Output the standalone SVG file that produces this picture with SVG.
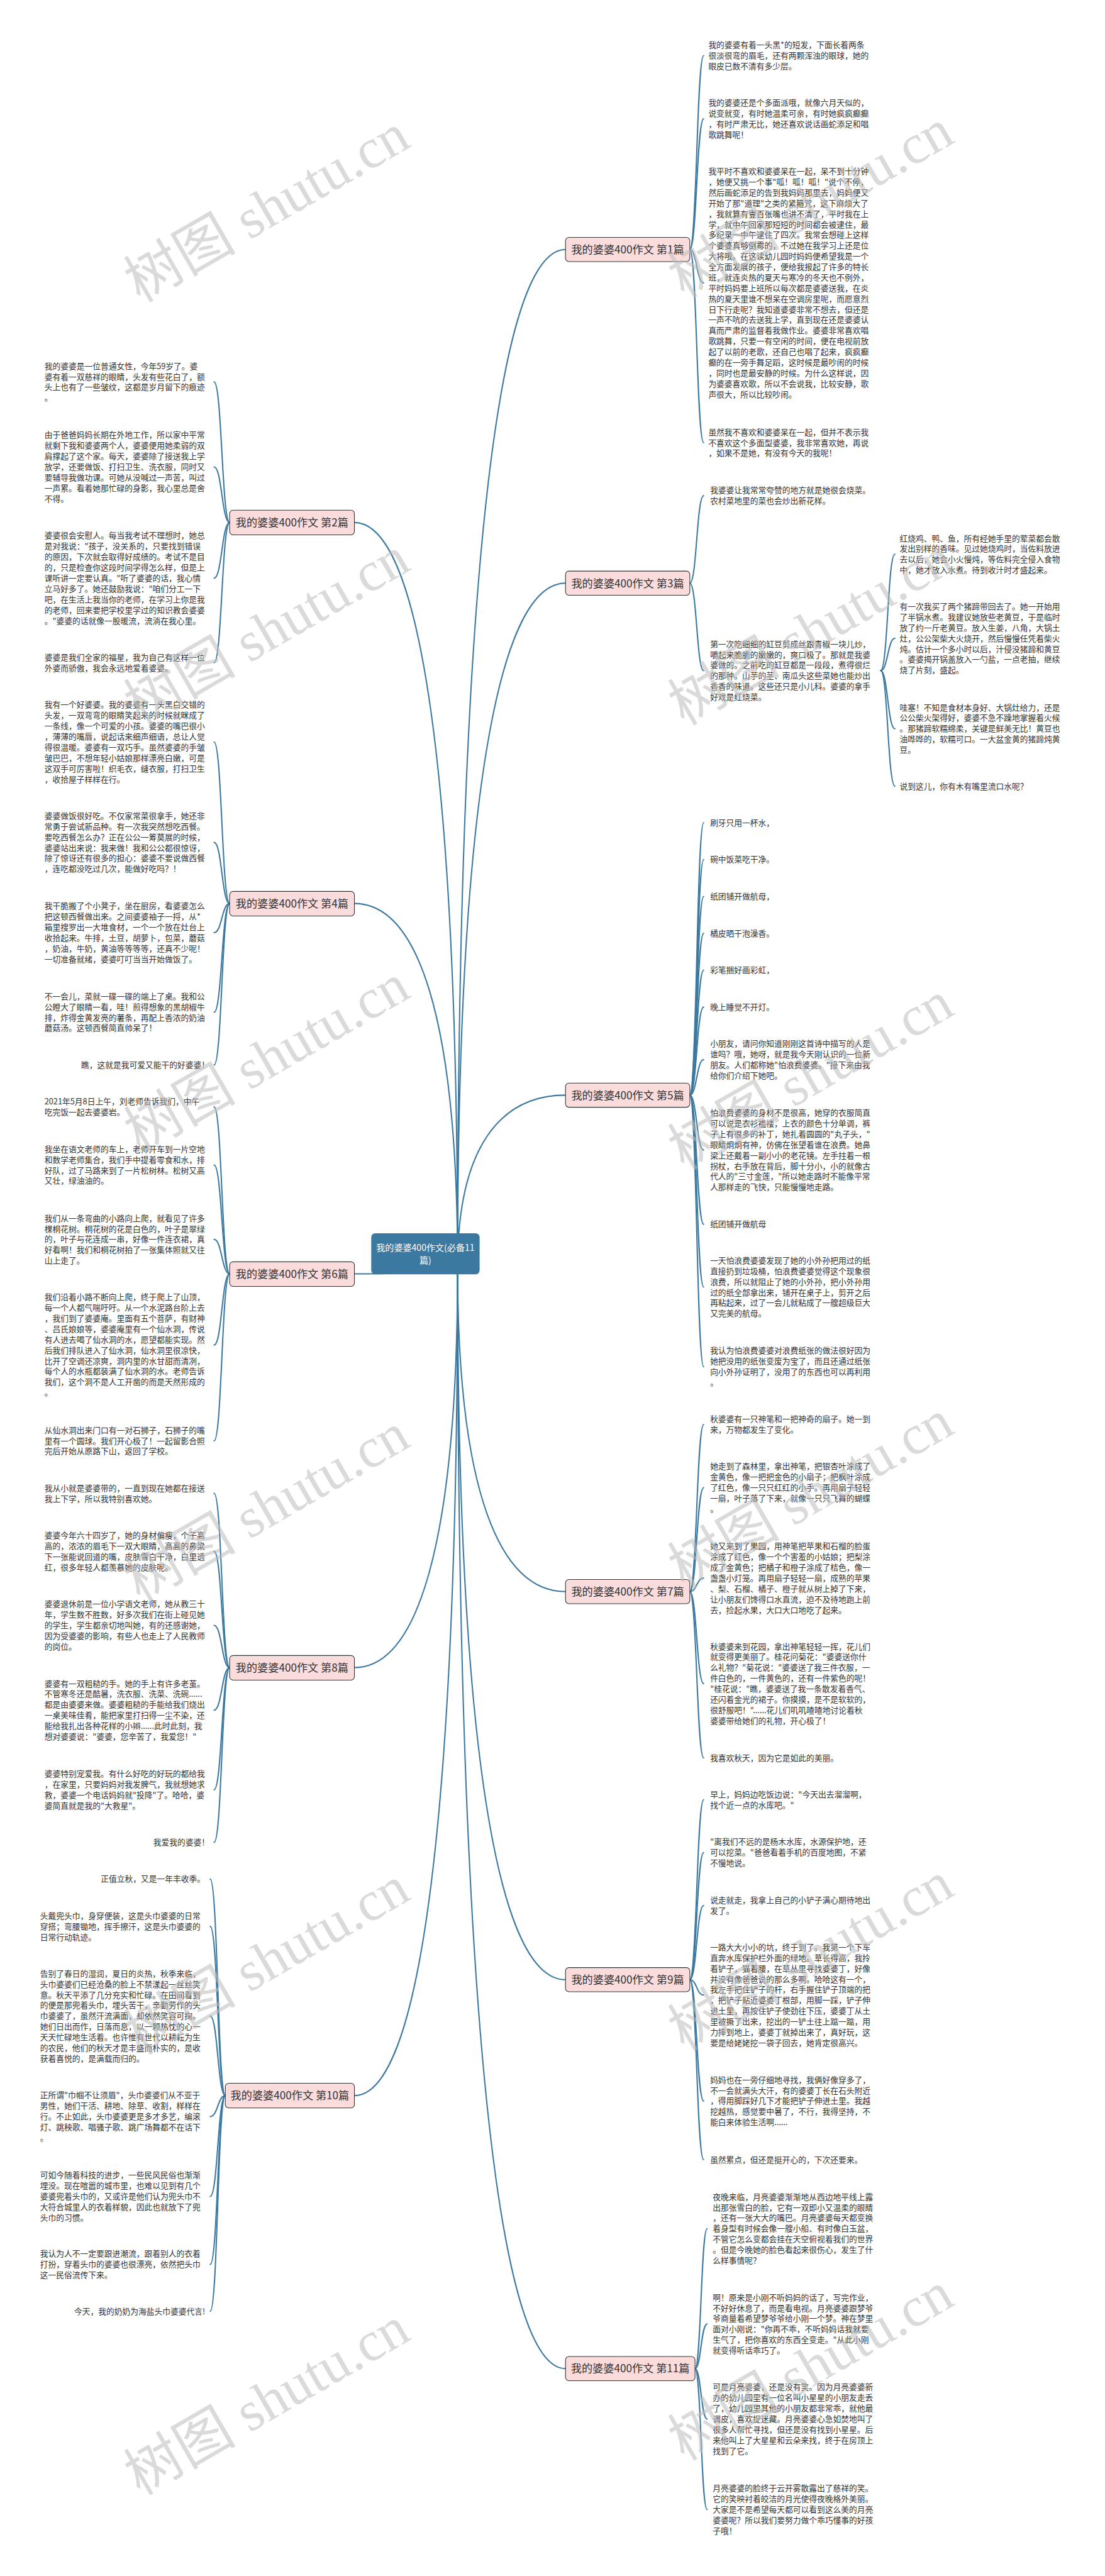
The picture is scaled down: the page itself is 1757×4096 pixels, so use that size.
<svg xmlns="http://www.w3.org/2000/svg" width="1757" height="4096" viewBox="0 0 1757 4096">
<style>
.t{font-family:"Noto Sans CJK SC","Noto Sans",sans-serif;font-size:18.6px;fill:#333}
.e{text-anchor:end}
.n rect{fill:#fbdcdc;stroke:#333;stroke-width:1.6}
.n text{font-family:"Noto Sans CJK SC","Noto Sans",sans-serif;font-size:25px;fill:#333;text-anchor:middle}
#connectors path{fill:none;stroke:#3c79a0;stroke-width:3;stroke-linecap:round}
.wm{font-family:"Liberation Serif","Noto Sans CJK SC",serif;font-size:130px;fill:#bdbdbd;opacity:0.55;text-anchor:middle}
</style>
<rect width="1757" height="4096" fill="#fff"/>
<g transform="scale(0.6864)">
<g id="connectors">
<path d="M1310 578C1160 578 1060 1285.1 1060 2935"/>
<path d="M1310 1351C1160 1351 1060 1826.2 1060 2935"/>
<path d="M1310 2537C1160 2537 1060 2656.4 1060 2935"/>
<path d="M1310 3687C1160 3687 1060 3461.4 1060 2935"/>
<path d="M1310 4586C1160 4586 1060 4090.7 1060 2935"/>
<path d="M1310 5487C1160 5487 1060 4721.4 1060 2935"/>
<path d="M821 1210.5C964.4 1210.5 1060 1727.9 1060 2935"/>
<path d="M821 2093C964.4 2093 1060 2345.6 1060 2935"/>
<path d="M821 2951C964.4 2951 1060 2946.2 1060 2935"/>
<path d="M821 3863C964.4 3863 1060 3584.6 1060 2935"/>
<path d="M821 4854.5C964.4 4854.5 1060 4278.7 1060 2935"/>
<path d="M1598 578C1614 578 1614 129 1630 129"/>
<path d="M1598 578C1614 578 1614 274.9 1630 274.9"/>
<path d="M1598 578C1614 578 1614 655.3 1630 655.3"/>
<path d="M1598 578C1614 578 1614 1025.6 1630 1025.6"/>
<path d="M1598 1351C1614 1351 1614 1148.3 1630 1148.3"/>
<path d="M1598 1351C1614 1351 1614 1553.5 1630 1553.5"/>
<path d="M2040 1553.5C2056.5 1553.5 2056.5 1283.9 2073 1283.9"/>
<path d="M2040 1553.5C2056.5 1553.5 2056.5 1478.8 2073 1478.8"/>
<path d="M2040 1553.5C2056.5 1553.5 2056.5 1688.2 2073 1688.2"/>
<path d="M2040 1553.5C2056.5 1553.5 2056.5 1821 2073 1821"/>
<path d="M1598 2537C1614 2537 1614 1906 1630 1906"/>
<path d="M1598 2537C1614 2537 1614 1991.4 1630 1991.4"/>
<path d="M1598 2537C1614 2537 1614 2076.8 1630 2076.8"/>
<path d="M1598 2537C1614 2537 1614 2162.2 1630 2162.2"/>
<path d="M1598 2537C1614 2537 1614 2247.6 1630 2247.6"/>
<path d="M1598 2537C1614 2537 1614 2333 1630 2333"/>
<path d="M1598 2537C1614 2537 1614 2454.9 1630 2454.9"/>
<path d="M1598 2537C1614 2537 1614 2664.1 1630 2664.1"/>
<path d="M1598 2537C1614 2537 1614 2836 1630 2836"/>
<path d="M1598 2537C1614 2537 1614 2981.5 1630 2981.5"/>
<path d="M1598 2537C1614 2537 1614 3165.9 1630 3165.9"/>
<path d="M1598 3687C1614 3687 1614 3300.3 1630 3300.3"/>
<path d="M1598 3687C1614 3687 1614 3446.2 1630 3446.2"/>
<path d="M1598 3687C1614 3687 1614 3655.8 1630 3655.8"/>
<path d="M1598 3687C1614 3687 1614 3900.1 1630 3900.1"/>
<path d="M1598 3687C1614 3687 1614 4072 1630 4072"/>
<path d="M1598 4586C1614 4586 1614 4169.3 1630 4169.3"/>
<path d="M1598 4586C1614 4586 1614 4291.6 1630 4291.6"/>
<path d="M1598 4586C1614 4586 1614 4414.3 1630 4414.3"/>
<path d="M1598 4586C1614 4586 1614 4621.7 1630 4621.7"/>
<path d="M1598 4586C1614 4586 1614 4867.2 1630 4867.2"/>
<path d="M1598 4586C1614 4586 1614 5003 1630 5003"/>
<path d="M1610 5487C1624 5487 1624 5162.8 1638 5162.8"/>
<path d="M1610 5487C1624 5487 1624 5383.5 1638 5383.5"/>
<path d="M1610 5487C1624 5487 1624 5603.8 1638 5603.8"/>
<path d="M1610 5487C1624 5487 1624 5813.2 1638 5813.2"/>
<path d="M532 1210.5C514 1210.5 514 884.9 496 884.9"/>
<path d="M532 1210.5C514 1210.5 514 1081.8 496 1081.8"/>
<path d="M532 1210.5C514 1210.5 514 1339.4 496 1339.4"/>
<path d="M532 1210.5C514 1210.5 514 1535.3 496 1535.3"/>
<path d="M532 2093C514 2093 514 1719.1 496 1719.1"/>
<path d="M532 2093C514 2093 514 1951.5 496 1951.5"/>
<path d="M532 2093C514 2093 514 2160.5 496 2160.5"/>
<path d="M532 2093C514 2093 514 2344.9 496 2344.9"/>
<path d="M532 2093C514 2093 514 2467 496 2467"/>
<path d="M532 2951C514 2951 514 2564.3 496 2564.3"/>
<path d="M532 2951C514 2951 514 2698.9 496 2698.9"/>
<path d="M532 2951C514 2951 514 2871.2 496 2871.2"/>
<path d="M532 2951C514 2951 514 3115.7 496 3115.7"/>
<path d="M532 2951C514 2951 514 3337.6 496 3337.6"/>
<path d="M532 3863C514 3863 514 3459.3 496 3459.3"/>
<path d="M532 3863C514 3863 514 3593.9 496 3593.9"/>
<path d="M532 3863C514 3863 514 3765.2 496 3765.2"/>
<path d="M532 3863C514 3863 514 3961.5 496 3961.5"/>
<path d="M532 3863C514 3863 514 4145.9 496 4145.9"/>
<path d="M532 3863C514 3863 514 4268 496 4268"/>
<path d="M522 4854.5C504.5 4854.5 504.5 4353 487 4353"/>
<path d="M522 4854.5C504.5 4854.5 504.5 4462.6 487 4462.6"/>
<path d="M522 4854.5C504.5 4854.5 504.5 4670.4 487 4670.4"/>
<path d="M522 4854.5C504.5 4854.5 504.5 4903.2 487 4903.2"/>
<path d="M522 4854.5C504.5 4854.5 504.5 5088.2 487 5088.2"/>
<path d="M522 4854.5C504.5 4854.5 504.5 5245.6 487 5245.6"/>
<path d="M522 4854.5C504.5 4854.5 504.5 5354 487 5354"/>
</g>

<g id="root"><rect x="860" y="2857" width="251" height="95" rx="9" fill="#3c79a0"/>
<text font-family="Noto Sans CJK SC,Noto Sans,sans-serif" font-size="20.5" fill="#fff" text-anchor="middle"><tspan x="985.5" y="2897.5">我的婆婆400作文(必备11</tspan><tspan x="985.5" y="2927.5">篇)</tspan></text></g>

<g id="n1" class="n"><rect x="1310" y="550" width="288" height="56" rx="8"/><text x="1454" y="587">我的婆婆400作文 第1篇</text></g>
<g id="n3" class="n"><rect x="1310" y="1323" width="288" height="56" rx="8"/><text x="1454" y="1360">我的婆婆400作文 第3篇</text></g>
<g id="n5" class="n"><rect x="1310" y="2509" width="288" height="56" rx="8"/><text x="1454" y="2546">我的婆婆400作文 第5篇</text></g>
<g id="n7" class="n"><rect x="1310" y="3659" width="288" height="56" rx="8"/><text x="1454" y="3696">我的婆婆400作文 第7篇</text></g>
<g id="n9" class="n"><rect x="1310" y="4558" width="288" height="56" rx="8"/><text x="1454" y="4595">我的婆婆400作文 第9篇</text></g>
<g id="n11" class="n"><rect x="1310" y="5459" width="300" height="56" rx="8"/><text x="1460" y="5496">我的婆婆400作文 第11篇</text></g>
<g id="n2" class="n"><rect x="532" y="1182" width="289" height="57" rx="8"/><text x="676.5" y="1219.5">我的婆婆400作文 第2篇</text></g>
<g id="n4" class="n"><rect x="532" y="2065" width="289" height="57" rx="8"/><text x="676.5" y="2102.5">我的婆婆400作文 第4篇</text></g>
<g id="n6" class="n"><rect x="532" y="2923" width="289" height="57" rx="8"/><text x="676.5" y="2960.5">我的婆婆400作文 第6篇</text></g>
<g id="n8" class="n"><rect x="532" y="3835" width="289" height="57" rx="8"/><text x="676.5" y="3872.5">我的婆婆400作文 第8篇</text></g>
<g id="n10" class="n"><rect x="522" y="4826" width="299" height="57" rx="8"/><text x="671.5" y="4863.5">我的婆婆400作文 第10篇</text></g>

<g id="r1a"><text class="t"><tspan x="1641" y="111.1">我的婆婆有着一头黑*的短发，下面长着两条</tspan><tspan x="1641" dy="24.6">很淡很弯的眉毛，还有两颗浑浊的眼球，她的</tspan><tspan x="1641" dy="24.6">眼皮已数不清有多少层。</tspan></text></g>
<g id="r1b"><text class="t"><tspan x="1641" y="244.7">我的婆婆还是个多面派哦，就像六月天似的，</tspan><tspan x="1641" dy="24.6">说变就变，有时她温柔可亲，有时她疯疯癫癫</tspan><tspan x="1641" dy="24.6">，有时严肃无比，她还喜欢说话画蛇添足和唱</tspan><tspan x="1641" dy="24.6">歌跳舞呢！</tspan></text></g>
<g id="r1c"><text class="t"><tspan x="1641" y="403.7">我平时不喜欢和婆婆呆在一起，呆不到十分钟</tspan><tspan x="1641" dy="24.6">，她便又挑一个事"呱！呱！呱！"说个不停，</tspan><tspan x="1641" dy="24.6">然后画蛇添足的告到我妈妈那里去，妈妈便又</tspan><tspan x="1641" dy="24.6">开始了那"道理"之类的紧箍咒，这下麻烦大了</tspan><tspan x="1641" dy="24.6">，我就算有壹百张嘴也讲不清了，平时我在上</tspan><tspan x="1641" dy="24.6">学，就中午回家那短短的时间都会被逮住，最</tspan><tspan x="1641" dy="24.6">多纪录一中午逮住了四次。我常会想碰上这样</tspan><tspan x="1641" dy="24.6">个婆婆真够倒霉的，不过她在我学习上还是位</tspan><tspan x="1641" dy="24.6">大将哦。在这读幼儿园时妈妈便希望我是一个</tspan><tspan x="1641" dy="24.6">全方面发展的孩子，便给我报起了许多的特长</tspan><tspan x="1641" dy="24.6">班，就连炎热的夏天与寒冷的冬天也不例外，</tspan><tspan x="1641" dy="24.6">平时妈妈要上班所以每次都是婆婆送我，在炎</tspan><tspan x="1641" dy="24.6">热的夏天里谁不想呆在空调房里呢，而愿意烈</tspan><tspan x="1641" dy="24.6">日下行走呢？我知道婆婆非常不想去，但还是</tspan><tspan x="1641" dy="24.6">一声不吭的去送我上学，直到现在还是婆婆认</tspan><tspan x="1641" dy="24.6">真而严肃的监督着我做作业。婆婆非常喜欢唱</tspan><tspan x="1641" dy="24.6">歌跳舞，只要一有空闲的时间，便在电视前放</tspan><tspan x="1641" dy="24.6">起了以前的老歌，还自己也唱了起来，疯疯癫</tspan><tspan x="1641" dy="24.6">癫的在一旁手舞足蹈，这时候是最吵闹的时候</tspan><tspan x="1641" dy="24.6">，同时也是最安静的时候。为什么这样说，因</tspan><tspan x="1641" dy="24.6">为婆婆喜欢歌，所以不会说我，比较安静，歌</tspan><tspan x="1641" dy="24.6">声很大，所以比较吵闹。</tspan></text></g>
<g id="r1d"><text class="t"><tspan x="1641" y="1007.7">虽然我不喜欢和婆婆呆在一起，但并不表示我</tspan><tspan x="1641" dy="24.6">不喜欢这个多面型婆婆，我非常喜欢她，再说</tspan><tspan x="1641" dy="24.6">，如果不是她，有没有今天的我呢！</tspan></text></g>

<g id="r3a"><text class="t"><tspan x="1645" y="1142.7">我婆婆让我常常夸赞的地方就是她很会烧菜。</tspan><tspan x="1645" dy="24.6">农村菜地里的菜也会炒出新花样。</tspan></text></g>
<g id="r3b"><text class="t"><tspan x="1645" y="1498.7">第一次吃细细的缸豆剪成丝跟青椒一块儿炒，</tspan><tspan x="1645" dy="24.6">嚼起来脆脆的嫩嫩的，爽口极了。那就是我婆</tspan><tspan x="1645" dy="24.6">婆做的。之前吃的缸豆都是一段段，煮得很烂</tspan><tspan x="1645" dy="24.6">的那种。山芋的茎、南瓜头这些菜她也能炒出</tspan><tspan x="1645" dy="24.6">香香的味道。这些还只是小儿科。婆婆的拿手</tspan><tspan x="1645" dy="24.6">好戏是红烧菜。</tspan></text></g>
<g id="r3b1"><text class="t"><tspan x="2084" y="1253.7">红烧鸡、鸭、鱼，所有经她手里的荤菜都会散</tspan><tspan x="2084" dy="24.6">发出别样的香味。见过她烧鸡时，当佐料放进</tspan><tspan x="2084" dy="24.6">去以后，她会小火慢炖，等佐料完全侵入食物</tspan><tspan x="2084" dy="24.6">中，她才放入水煮。待到收汁时才盛起来。</tspan></text></g>
<g id="r3b2"><text class="t"><tspan x="2084" y="1411.7">有一次我买了两个猪蹄带回去了。她一开始用</tspan><tspan x="2084" dy="24.6">了半锅水煮。我建议她放些老黄豆，于是临时</tspan><tspan x="2084" dy="24.6">放了约一斤老黄豆。放入生姜，八角，大锅土</tspan><tspan x="2084" dy="24.6">灶，公公架柴大火烧开，然后慢慢任凭着柴火</tspan><tspan x="2084" dy="24.6">炖。估计一个多小时以后，汁侵没猪蹄和黄豆</tspan><tspan x="2084" dy="24.6">。婆婆揭开锅盖放入一勺盐，一点老抽，继续</tspan><tspan x="2084" dy="24.6">烧了片刻，盛起。</tspan></text></g>
<g id="r3b3"><text class="t"><tspan x="2084" y="1645.7">哇塞！不知是食材本身好、大锅灶给力，还是</tspan><tspan x="2084" dy="24.6">公公柴火架得好，婆婆不急不躁地掌握着火候</tspan><tspan x="2084" dy="24.6">。那猪蹄软糯绵柔，关键是鲜美无比！黄豆也</tspan><tspan x="2084" dy="24.6">油哗哗的，软糯可口。一大盆金黄的猪蹄炖黄</tspan><tspan x="2084" dy="24.6">豆。</tspan></text></g>
<g id="r3b4"><text class="t" x="2084" y="1827.7">说到这儿，你有木有嘴里流口水呢？</text></g>

<g id="r5a"><text class="t" x="1645" y="1912.7">刷牙只用一杯水，</text></g>
<g id="r5b"><text class="t" x="1645" y="1998.1">碗中饭菜吃干净。</text></g>
<g id="r5c"><text class="t" x="1645" y="2083.5">纸团铺开做航母，</text></g>
<g id="r5d"><text class="t" x="1645" y="2168.9">橘皮晒干泡澡香。</text></g>
<g id="r5e"><text class="t" x="1645" y="2254.3">彩笔捆好画彩虹，</text></g>
<g id="r5f"><text class="t" x="1645" y="2339.7">晚上睡觉不开灯。</text></g>
<g id="r5g"><text class="t"><tspan x="1645" y="2424.7">小朋友，请问你知道刚刚这首诗中描写的人是</tspan><tspan x="1645" dy="24.6">谁吗？哦，她呀，就是我今天刚认识的一位新</tspan><tspan x="1645" dy="24.6">朋友。人们都称她"怕浪费婆婆。"接下来由我</tspan><tspan x="1645" dy="24.6">给你们介绍下她吧。</tspan></text></g>
<g id="r5h"><text class="t"><tspan x="1645" y="2584.7">怕浪费婆婆的身材不是很高，她穿的衣服简直</tspan><tspan x="1645" dy="24.6">可以说是衣衫褴褛，上衣的颜色十分单调，裤</tspan><tspan x="1645" dy="24.6">子上有很多的补丁，她扎着圆圆的"丸子头，"</tspan><tspan x="1645" dy="24.6">眼睛炯炯有神，仿佛在张望着谁在浪费。她鼻</tspan><tspan x="1645" dy="24.6">梁上还戴着一副小小的老花镜。左手拄着一根</tspan><tspan x="1645" dy="24.6">拐杖，右手放在背后，脚十分小，小的就像古</tspan><tspan x="1645" dy="24.6">代人的"三寸金莲，"所以她走路时不能像平常</tspan><tspan x="1645" dy="24.6">人那样走的飞快，只能慢慢地走路。</tspan></text></g>
<g id="r5i"><text class="t" x="1645" y="2842.7">纸团铺开做航母</text></g>
<g id="r5j"><text class="t"><tspan x="1645" y="2926.7">一天怕浪费婆婆发现了她的小外孙把用过的纸</tspan><tspan x="1645" dy="24.6">直接扔到垃圾桶，怕浪费婆婆觉得这个现象很</tspan><tspan x="1645" dy="24.6">浪费，所以就阻止了她的小外孙，把小外孙用</tspan><tspan x="1645" dy="24.6">过的纸全部拿出来，铺开在桌子上，剪开之后</tspan><tspan x="1645" dy="24.6">再粘起来，过了一会儿就粘成了一艘超级巨大</tspan><tspan x="1645" dy="24.6">又完美的航母。</tspan></text></g>
<g id="r5k"><text class="t"><tspan x="1645" y="3135.7">我认为怕浪费婆婆对浪费纸张的做法很好因为</tspan><tspan x="1645" dy="24.6">她把没用的纸张变废为宝了，而且还通过纸张</tspan><tspan x="1645" dy="24.6">向小外孙证明了，没用了的东西也可以再利用</tspan><tspan x="1645" dy="24.6">。</tspan></text></g>

<g id="r7a"><text class="t"><tspan x="1645" y="3294.7">秋婆婆有一只神笔和一把神奇的扇子。她一到</tspan><tspan x="1645" dy="24.6">来，万物都发生了变化。</tspan></text></g>
<g id="r7b"><text class="t"><tspan x="1645" y="3403.7">她走到了森林里，拿出神笔，把银杏叶涂成了</tspan><tspan x="1645" dy="24.6">金黄色，像一把把金色的小扇子；把枫叶涂成</tspan><tspan x="1645" dy="24.6">了红色，像一只只红红的小手。再用扇子轻轻</tspan><tspan x="1645" dy="24.6">一扇，叶子落了下来，就像一只只飞舞的蝴蝶</tspan><tspan x="1645" dy="24.6">。</tspan></text></g>
<g id="r7c"><text class="t"><tspan x="1645" y="3588.7">她又来到了果园，用神笔把苹果和石榴的脸蛋</tspan><tspan x="1645" dy="24.6">涂成了红色，像一个个害羞的小姑娘；把梨涂</tspan><tspan x="1645" dy="24.6">成了金黄色；把橘子和橙子涂成了桔色，像一</tspan><tspan x="1645" dy="24.6">盏盏小灯笼。再用扇子轻轻一扇，成熟的苹果</tspan><tspan x="1645" dy="24.6">、梨、石榴、橘子、橙子就从树上掉了下来，</tspan><tspan x="1645" dy="24.6">让小朋友们馋得口水直流，迫不及待地跑上前</tspan><tspan x="1645" dy="24.6">去，捡起水果，大口大口地吃了起来。</tspan></text></g>
<g id="r7d"><text class="t"><tspan x="1645" y="3820.7">秋婆婆来到花园，拿出神笔轻轻一挥，花儿们</tspan><tspan x="1645" dy="24.6">就变得更美丽了。桂花问菊花："婆婆送你什</tspan><tspan x="1645" dy="24.6">么礼物？"菊花说："婆婆送了我三件衣服，一</tspan><tspan x="1645" dy="24.6">件白色的，一件黄色的，还有一件紫色的呢！</tspan><tspan x="1645" dy="24.6">"桂花说："瞧，婆婆送了我一条散发着香气、</tspan><tspan x="1645" dy="24.6">还闪着金光的裙子。你摸摸，是不是软软的，</tspan><tspan x="1645" dy="24.6">很舒服吧！"......花儿们叽叽喳喳地讨论着秋</tspan><tspan x="1645" dy="24.6">婆婆带给她们的礼物，开心极了！</tspan></text></g>
<g id="r7e"><text class="t" x="1645" y="4078.7">我喜欢秋天，因为它是如此的美丽。</text></g>

<g id="r9a"><text class="t"><tspan x="1645" y="4163.7">早上，妈妈边吃饭边说："今天出去溜溜啊，</tspan><tspan x="1645" dy="24.6">找个近一点的水库吧。"</tspan></text></g>
<g id="r9b"><text class="t"><tspan x="1645" y="4273.7">"离我们不远的是杨木水库，水源保护地，还</tspan><tspan x="1645" dy="24.6">可以挖菜。"爸爸看着手机的百度地图，不紧</tspan><tspan x="1645" dy="24.6">不慢地说。</tspan></text></g>
<g id="r9c"><text class="t"><tspan x="1645" y="4408.7">说走就走，我拿上自己的小铲子满心期待地出</tspan><tspan x="1645" dy="24.6">发了。</tspan></text></g>
<g id="r9d"><text class="t"><tspan x="1645" y="4517.7">一路大大小小的坑，终于到了。我第一个下车</tspan><tspan x="1645" dy="24.6">直奔水库保护栏外面的绿地。草长得高，我拎</tspan><tspan x="1645" dy="24.6">着铲子，猫着腰，在草丛里寻找婆婆丁，好像</tspan><tspan x="1645" dy="24.6">并没有像爸爸说的那么多啊。哈哈这有一个，</tspan><tspan x="1645" dy="24.6">我左手把住铲子的杆，右手握住铲子顶端的把</tspan><tspan x="1645" dy="24.6">，把铲子贴近婆婆丁根部，用脚一踩，铲子伸</tspan><tspan x="1645" dy="24.6">进土里，再按住铲子使劲往下压，婆婆丁从土</tspan><tspan x="1645" dy="24.6">里被撅了出来，挖出的一铲土往上踮一踮，用</tspan><tspan x="1645" dy="24.6">力摔到地上，婆婆丁就掉出来了，真好玩，这</tspan><tspan x="1645" dy="24.6">要是给姥姥挖一袋子回去，她肯定很高兴。</tspan></text></g>
<g id="r9e"><text class="t"><tspan x="1645" y="4824.7">妈妈也在一旁仔细地寻找，我俩好像穿多了，</tspan><tspan x="1645" dy="24.6">不一会就满头大汗，有的婆婆丁长在石头附近</tspan><tspan x="1645" dy="24.6">，得用脚踩好几下才能把铲子伸进土里。我越</tspan><tspan x="1645" dy="24.6">挖越热，感觉要中暑了，不行，我得坚持，不</tspan><tspan x="1645" dy="24.6">能白来体验生活啊......</tspan></text></g>
<g id="r9f"><text class="t" x="1645" y="5009.7">虽然累点，但还是挺开心的，下次还要来。</text></g>

<g id="r11a"><text class="t"><tspan x="1651" y="5095.7">夜晚来临，月亮婆婆渐渐地从西边地平线上露</tspan><tspan x="1651" dy="24.6">出那张雪白的脸，它有一双即小又温柔的眼睛</tspan><tspan x="1651" dy="24.6">，还有一张大大的嘴巴。月亮婆婆每天都变换</tspan><tspan x="1651" dy="24.6">着身型有时候会像一艘小船、有时像白玉盆，</tspan><tspan x="1651" dy="24.6">不管它怎么变都会挂在天空俯视着我们的世界</tspan><tspan x="1651" dy="24.6">。但是今晚她的脸色看起来很伤心，发生了什</tspan><tspan x="1651" dy="24.6">么样事情呢？</tspan></text></g>
<g id="r11b"><text class="t"><tspan x="1651" y="5328.7">啊！原来是小刚不听妈妈的话了，写完作业，</tspan><tspan x="1651" dy="24.6">不好好休息了，而是看电视。月亮婆婆跟梦爷</tspan><tspan x="1651" dy="24.6">爷商量着希望梦爷爷给小刚一个梦。神在梦里</tspan><tspan x="1651" dy="24.6">面对小刚说："你再不乖，不听妈妈话我就要</tspan><tspan x="1651" dy="24.6">生气了，把你喜欢的东西全变走。"从此小刚</tspan><tspan x="1651" dy="24.6">就变得听话乖巧了。</tspan></text></g>
<g id="r11c"><text class="t"><tspan x="1651" y="5536.7">可是月亮婆婆，还是没有笑。因为月亮婆婆新</tspan><tspan x="1651" dy="24.6">办的幼儿园里有一位名叫小星星的小朋友走丢</tspan><tspan x="1651" dy="24.6">了，幼儿园里其他的小朋友都非常乖，就他最</tspan><tspan x="1651" dy="24.6">调皮，喜欢捉迷藏。月亮婆婆心急如焚地叫了</tspan><tspan x="1651" dy="24.6">很多人帮忙寻找，但还是没有找到小星星。后</tspan><tspan x="1651" dy="24.6">来他叫上了大星星和云朵来找，终于在房顶上</tspan><tspan x="1651" dy="24.6">找到了它。</tspan></text></g>
<g id="r11d"><text class="t"><tspan x="1651" y="5770.7">月亮婆婆的脸终于云开雾散露出了慈祥的笑。</tspan><tspan x="1651" dy="24.6">它的笑映衬着皎洁的月光使得夜晚格外美丽。</tspan><tspan x="1651" dy="24.6">大家是不是希望每天都可以看到这么美的月亮</tspan><tspan x="1651" dy="24.6">婆婆呢？所以我们要努力做个乖巧懂事的好孩</tspan><tspan x="1651" dy="24.6">子哦！</tspan></text></g>

<g id="l2a"><text class="t"><tspan x="103" y="854.7">我的婆婆是一位普通女性，今年59岁了。婆</tspan><tspan x="103" dy="24.6">婆有着一双慈祥的眼睛，头发有些花白了，额</tspan><tspan x="103" dy="24.6">头上也有了一些皱纹，这都是岁月留下的痕迹</tspan><tspan x="103" dy="24.6">。</tspan></text></g>
<g id="l2b"><text class="t"><tspan x="103" y="1014.7">由于爸爸妈妈长期在外地工作，所以家中平常</tspan><tspan x="103" dy="24.6">就剩下我和婆婆两个人，婆婆便用她柔弱的双</tspan><tspan x="103" dy="24.6">肩撑起了这个家。每天，婆婆除了接送我上学</tspan><tspan x="103" dy="24.6">放学，还要做饭、打扫卫生、洗衣服，同时又</tspan><tspan x="103" dy="24.6">要辅导我做功课。可她从没喊过一声苦，叫过</tspan><tspan x="103" dy="24.6">一声累。看着她那忙碌的身影，我心里总是舍</tspan><tspan x="103" dy="24.6">不得。</tspan></text></g>
<g id="l2c"><text class="t"><tspan x="103" y="1247.7">婆婆很会安慰人。每当我考试不理想时，她总</tspan><tspan x="103" dy="24.6">是对我说："孩子，没关系的，只要找到错误</tspan><tspan x="103" dy="24.6">的原因，下次就会取得好成绩的。考试不是目</tspan><tspan x="103" dy="24.6">的，只是检查你这段时间学得怎么样，但是上</tspan><tspan x="103" dy="24.6">课听讲一定要认真。"听了婆婆的话，我心情</tspan><tspan x="103" dy="24.6">立马好多了。她还鼓励我说："咱们分工一下</tspan><tspan x="103" dy="24.6">吧，在生活上我当你的老师，在学习上你是我</tspan><tspan x="103" dy="24.6">的老师，回来要把学校里学过的知识教会婆婆</tspan><tspan x="103" dy="24.6">。"婆婆的话就像一股暖流，流淌在我心里。</tspan></text></g>
<g id="l2d"><text class="t"><tspan x="103" y="1529.7">婆婆是我们全家的福星，我为自己有这样一位</tspan><tspan x="103" dy="24.6">外婆而骄傲，我会永远地爱着婆婆。</tspan></text></g>

<g id="l4a"><text class="t"><tspan x="103" y="1639.7">我有一个好婆婆。我的婆婆有一头黑白交错的</tspan><tspan x="103" dy="24.6">头发，一双弯弯的眼睛笑起来的时候就眯成了</tspan><tspan x="103" dy="24.6">一条线，像一个可爱的小孩。婆婆的嘴巴很小</tspan><tspan x="103" dy="24.6">，薄薄的嘴唇，说起话来细声细语，总让人觉</tspan><tspan x="103" dy="24.6">得很温暖。婆婆有一双巧手。虽然婆婆的手皱</tspan><tspan x="103" dy="24.6">皱巴巴，不想年轻小姑娘那样漂亮白嫩，可是</tspan><tspan x="103" dy="24.6">这双手可厉害啦！织毛衣，缝衣服，打扫卫生</tspan><tspan x="103" dy="24.6">，收拾屋子样样在行。</tspan></text></g>
<g id="l4b"><text class="t"><tspan x="103" y="1896.7">婆婆做饭很好吃。不仅家常菜很拿手，她还非</tspan><tspan x="103" dy="24.6">常勇于尝试新品种。有一次我突然想吃西餐。</tspan><tspan x="103" dy="24.6">要吃西餐怎么办？正在公公一筹莫展的时候，</tspan><tspan x="103" dy="24.6">婆婆站出来说：我来做！我和公公都很惊讶，</tspan><tspan x="103" dy="24.6">除了惊讶还有很多的担心：婆婆不要说做西餐</tspan><tspan x="103" dy="24.6">，连吃都没吃过几次，能做好吃吗？！</tspan></text></g>
<g id="l4c"><text class="t"><tspan x="103" y="2105.7">我干脆搬了个小凳子，坐在厨房，看婆婆怎么</tspan><tspan x="103" dy="24.6">把这顿西餐做出来。之间婆婆袖子一捋，从*</tspan><tspan x="103" dy="24.6">箱里搜罗出一大堆食材，一个一个放在灶台上</tspan><tspan x="103" dy="24.6">收拾起来。牛排，土豆，胡萝卜，包菜，蘑菇</tspan><tspan x="103" dy="24.6">，奶油，牛奶，黄油等等等等，还真不少呢！</tspan><tspan x="103" dy="24.6">一切准备就绪，婆婆叮叮当当开始做饭了。</tspan></text></g>
<g id="l4d"><text class="t"><tspan x="103" y="2314.7">不一会儿，菜就一碟一碟的端上了桌。我和公</tspan><tspan x="103" dy="24.6">公瞪大了眼睛一看，哇！煎得想象的黑胡椒牛</tspan><tspan x="103" dy="24.6">排，炸得金黄发亮的薯条，再配上香浓的奶油</tspan><tspan x="103" dy="24.6">蘑菇汤。这顿西餐简直帅呆了！</tspan></text></g>
<g id="l4e"><text class="t e" x="485" y="2473.7">瞧，这就是我可爱又能干的好婆婆！</text></g>

<g id="l6a"><text class="t"><tspan x="103" y="2558.7">2021年5月8日上午，刘老师告诉我们，中午</tspan><tspan x="103" dy="24.6">吃完饭一起去婆婆岩。</tspan></text></g>
<g id="l6b"><text class="t"><tspan x="103" y="2668.7">我坐在语文老师的车上，老师开车到一片空地</tspan><tspan x="103" dy="24.6">和数学老师集合，我们手中提着零食和水，排</tspan><tspan x="103" dy="24.6">好队，过了马路来到了一片松树林。松树又高</tspan><tspan x="103" dy="24.6">又壮，绿油油的。</tspan></text></g>
<g id="l6c"><text class="t"><tspan x="103" y="2828.7">我们从一条弯曲的小路向上爬，就看见了许多</tspan><tspan x="103" dy="24.6">棵桐花树。桐花树的花是白色的，叶子是翠绿</tspan><tspan x="103" dy="24.6">的，叶子与花连成一串，好像一件连衣裙，真</tspan><tspan x="103" dy="24.6">好看啊！我们和桐花树拍了一张集体照就又往</tspan><tspan x="103" dy="24.6">山上走了。</tspan></text></g>
<g id="l6d"><text class="t"><tspan x="103" y="3011.7">我们沿着小路不断向上爬，终于爬上了山顶，</tspan><tspan x="103" dy="24.6">每一个人都气喘吁吁。从一个水泥路台阶上去</tspan><tspan x="103" dy="24.6">，我们到了婆婆庵。里面有五个菩萨，有财神</tspan><tspan x="103" dy="24.6">、吕氏娘娘等，婆婆庵里有一个仙水洞，传说</tspan><tspan x="103" dy="24.6">有人进去喝了仙水洞的水，愿望都能实现。然</tspan><tspan x="103" dy="24.6">后我们排队进入了仙水洞，仙水洞里很凉快，</tspan><tspan x="103" dy="24.6">比开了空调还凉爽，洞内里的水甘甜而清冽，</tspan><tspan x="103" dy="24.6">每个人的水瓶都装满了仙水洞的水。老师告诉</tspan><tspan x="103" dy="24.6">我们，这个洞不是人工开凿的而是天然形成的</tspan><tspan x="103" dy="24.6">。</tspan></text></g>
<g id="l6e"><text class="t"><tspan x="103" y="3319.7">从仙水洞出来门口有一对石狮子，石狮子的嘴</tspan><tspan x="103" dy="24.6">里有一个圆球。我们开心极了！一起留影合照</tspan><tspan x="103" dy="24.6">完后开始从原路下山，返回了学校。</tspan></text></g>

<g id="l8a"><text class="t"><tspan x="103" y="3453.7">我从小就是婆婆带的，一直到现在她都在接送</tspan><tspan x="103" dy="24.6">我上下学，所以我特别喜欢她。</tspan></text></g>
<g id="l8b"><text class="t"><tspan x="103" y="3563.7">婆婆今年六十四岁了，她的身材偏瘦，个子高</tspan><tspan x="103" dy="24.6">高的，浓浓的眉毛下一双大眼睛，高高的鼻梁</tspan><tspan x="103" dy="24.6">下一张能说回道的嘴，皮肤雪白干净，白里透</tspan><tspan x="103" dy="24.6">红，很多年轻人都羡慕她的皮肤呢。</tspan></text></g>
<g id="l8c"><text class="t"><tspan x="103" y="3722.7">婆婆退休前是一位小学语文老师，她从教三十</tspan><tspan x="103" dy="24.6">年，学生数不胜数，好多次我们在街上碰见她</tspan><tspan x="103" dy="24.6">的学生，学生都亲切地叫她，有的还感谢她，</tspan><tspan x="103" dy="24.6">因为受婆婆的影响，有些人也走上了人民教师</tspan><tspan x="103" dy="24.6">的岗位。</tspan></text></g>
<g id="l8d"><text class="t"><tspan x="103" y="3906.7">婆婆有一双粗糙的手。她的手上有许多老茧。</tspan><tspan x="103" dy="24.6">不管寒冬还是酷暑，洗衣服、洗菜、洗碗......</tspan><tspan x="103" dy="24.6">都是由婆婆来做。婆婆粗糙的手能给我们烧出</tspan><tspan x="103" dy="24.6">一桌美味佳肴，能把家里打扫得一尘不染，还</tspan><tspan x="103" dy="24.6">能给我扎出各种花样的小辫......此时此刻，我</tspan><tspan x="103" dy="24.6">想对婆婆说："婆婆，您辛苦了，我爱您！"</tspan></text></g>
<g id="l8e"><text class="t"><tspan x="103" y="4115.7">婆婆特别宠爱我。有什么好吃的好玩的都给我</tspan><tspan x="103" dy="24.6">，在家里，只要妈妈对我发脾气，我就想她求</tspan><tspan x="103" dy="24.6">救，婆婆一个电话妈妈就"投降"了。哈哈，婆</tspan><tspan x="103" dy="24.6">婆简直就是我的"大救星"。</tspan></text></g>
<g id="l8f"><text class="t e" x="485" y="4274.7">我爱我的婆婆！</text></g>

<g id="l10a"><text class="t e" x="475" y="4359.7">正值立秋，又是一年丰收季。</text></g>
<g id="l10b"><text class="t"><tspan x="93" y="4444.7">头戴兜头巾，身穿便装，这是头巾婆婆的日常</tspan><tspan x="93" dy="24.6">穿搭；弯腰锄地，挥手擦汗，这是头巾婆婆的</tspan><tspan x="93" dy="24.6">日常行动轨迹。</tspan></text></g>
<g id="l10c"><text class="t"><tspan x="93" y="4578.7">告别了春日的湿润，夏日的炎热，秋季来临，</tspan><tspan x="93" dy="24.6">头巾婆婆们已经沧桑的脸上不禁漾起一丝丝笑</tspan><tspan x="93" dy="24.6">意。秋天平添了几分充实和忙碌。在田间看到</tspan><tspan x="93" dy="24.6">的便是那兜着头巾，埋头苦干，辛勤劳作的头</tspan><tspan x="93" dy="24.6">巾婆婆了，虽然汗流满面，却依然笑容可掬。</tspan><tspan x="93" dy="24.6">她们日出而作，日落而息，以一颗热忱的心一</tspan><tspan x="93" dy="24.6">天天忙碌地生活着。也许惟有世代以耕耘为生</tspan><tspan x="93" dy="24.6">的农民，他们的秋天才是丰盛而朴实的，是收</tspan><tspan x="93" dy="24.6">获着喜悦的，是满载而归的。</tspan></text></g>
<g id="l10d"><text class="t"><tspan x="93" y="4860.7">正所谓"巾帼不让须眉"，头巾婆婆们从不亚于</tspan><tspan x="93" dy="24.6">男性，她们干活、耕地、除草、收割，样样在</tspan><tspan x="93" dy="24.6">行。不止如此，头巾婆婆更是多才多艺，编滚</tspan><tspan x="93" dy="24.6">灯、跳秧歌、唱骚子歌、跳广场舞都不在话下</tspan><tspan x="93" dy="24.6">。</tspan></text></g>
<g id="l10e"><text class="t"><tspan x="93" y="5045.7">可如今随着科技的进步，一些民风民俗也渐渐</tspan><tspan x="93" dy="24.6">埋没。现在喧嚣的城市里，也难以见到有几个</tspan><tspan x="93" dy="24.6">婆婆兜着头巾的，又或许是他们认为兜头巾不</tspan><tspan x="93" dy="24.6">大符合城里人的衣着样貌，因此也就放下了兜</tspan><tspan x="93" dy="24.6">头巾的习惯。</tspan></text></g>
<g id="l10f"><text class="t"><tspan x="93" y="5227.7">我认为人不一定要跟进潮流，跟着别人的衣着</tspan><tspan x="93" dy="24.6">打扮，穿着头巾的婆婆也很漂亮，依然把头巾</tspan><tspan x="93" dy="24.6">这一民俗流传下来。</tspan></text></g>
<g id="l10g"><text class="t e" x="475" y="5360.7">今天，我的奶奶为海盐头巾婆婆代言!</text></g>

<g id="watermark">
<text class="wm" transform="translate(640 520) rotate(-30)">树图 shutu.cn</text>
<text class="wm" transform="translate(640 1500) rotate(-30)">树图 shutu.cn</text>
<text class="wm" transform="translate(640 2490) rotate(-30)">树图 shutu.cn</text>
<text class="wm" transform="translate(640 3530) rotate(-30)">树图 shutu.cn</text>
<text class="wm" transform="translate(640 4580) rotate(-30)">树图 shutu.cn</text>
<text class="wm" transform="translate(640 5600) rotate(-30)">树图 shutu.cn</text>
<text class="wm" transform="translate(1900 510) rotate(-30)">树图 shutu.cn</text>
<text class="wm" transform="translate(1900 1500) rotate(-30)">树图 shutu.cn</text>
<text class="wm" transform="translate(1900 2530) rotate(-30)">树图 shutu.cn</text>
<text class="wm" transform="translate(1900 3500) rotate(-30)">树图 shutu.cn</text>
<text class="wm" transform="translate(1900 4570) rotate(-30)">树图 shutu.cn</text>
<text class="wm" transform="translate(1900 5520) rotate(-30)">树图 shutu.cn</text>
</g>
</g>
</svg>
